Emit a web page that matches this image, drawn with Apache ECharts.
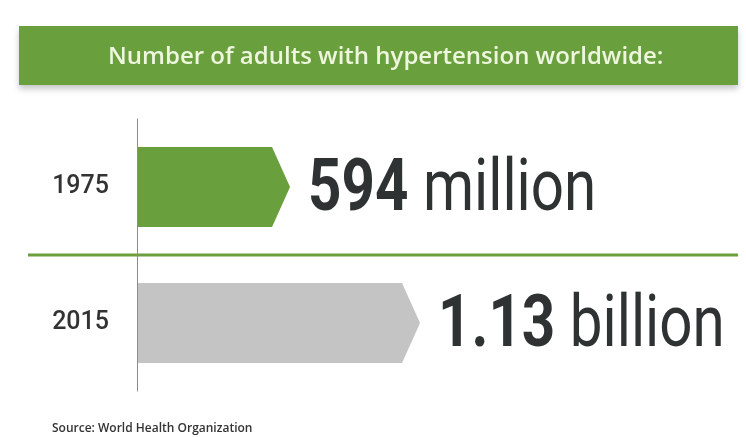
<!DOCTYPE html>
<html>
<head>
<meta charset="utf-8">
<script src="https://cdn.jsdelivr.net/npm/echarts@6/dist/echarts.min.js"></script>
<style>
html,body{margin:0;padding:0;background:#fff;}
#chart{width:746px;height:437px;}
</style>
</head>
<body>
<div id="chart"></div>
<script>
// ---- data ----
var titleText = 'Number of adults with hypertension worldwide:';
var sourceText = 'Source: World Health Organization';
var years = ['1975', '2015'];
var adultsMillions = [594, 1130];
var labelNumbers = ['594', '1.13'];
var labelUnits = ['million', 'billion'];

// ---- styles ----
var barColors = ['#6a9f3d', '#c4c4c4'];
var green = '#6a9f3d';

var chart = echarts.init(document.getElementById('chart'), null, {renderer: 'canvas'});

var seriesData = adultsMillions.map(function (v, i) { return [v, i]; });

var option = {
  backgroundColor: '#ffffff',
  animation: false,
  title: {
    text: titleText,
    left: 108,
    top: 43,
    padding: 0,
    textStyle: {
      color: '#eef6de',
      fontFamily: 'Open Sans',
      fontWeight: 600,
      fontSize: 24,
      lineHeight: 28
    }
  },
  graphic: [
    {
      type: 'rect',
      z: 0,
      shape: {x: 19, y: 26, width: 719, height: 59},
      style: {
        fill: green,
        shadowColor: 'rgba(0,0,0,0.22)',
        shadowBlur: 6,
        shadowOffsetY: 4
      }
    },
    {
      type: 'line',
      z: 0,
      shape: {x1: 28, y1: 255, x2: 738, y2: 255},
      style: {stroke: green, lineWidth: 3}
    },
    {
      type: 'text',
      left: 52,
      top: 423,
      style: {
        text: sourceText,
        fill: '#333333',
        font: '600 12px "Open Sans"'
      }
    }
  ],
  grid: {left: 137, right: 27, top: 119, bottom: 46, containLabel: false},
  xAxis: {
    type: 'value',
    min: 0,
    max: 2400,
    show: false
  },
  yAxis: {
    type: 'category',
    data: years,
    inverse: true,
    axisLine: {show: true, lineStyle: {color: '#8c8c8c', width: 1}},
    axisTick: {show: false},
    splitLine: {show: false},
    axisLabel: {
      margin: 28,
      color: '#333333',
      fontFamily: 'Roboto',
      fontWeight: 500,
      fontSize: 25
    }
  },
  series: [{
    type: 'custom',
    coordinateSystem: 'cartesian2d',
    encode: {x: 0, y: 1},
    data: seriesData,
    renderItem: function (params, api) {
      var idx = params.dataIndex;
      var val = api.value(0);
      var cat = api.value(1);
      var start = api.coord([0, cat]);
      var end = api.coord([val, cat]);
      var h = api.size([0, 1])[1] * 0.59;
      var half = 9;
      var cy = start[1];
      var top = cy - h / 2, bot = cy + h / 2;
      var bodyEnd = end[0] - half, tip = end[0] + half;
      return {
        type: 'group',
        children: [
          {
            type: 'polygon',
            shape: {points: [[start[0] + 1, top], [bodyEnd, top], [tip, cy], [bodyEnd, bot], [start[0] + 1, bot]]},
            style: {fill: barColors[idx]}
          },
          {
            type: 'text',
            x: tip + 18,
            y: cy + 5,
            scaleX: 0.81,
            style: {
              text: '{n|' + labelNumbers[idx] + '}{u|\u00a0' + labelUnits[idx] + '}',
              align: 'left',
              verticalAlign: 'middle',
              rich: {
                n: {fontFamily: 'Roboto', fontWeight: 'bold', fontSize: 72, fill: '#2f3233'},
                u: {fontFamily: 'Roboto', fontWeight: 'normal', fontSize: 72, fill: '#2f3233'}
              }
            }
          }
        ]
      };
    }
  }]
};

chart.setOption(option);
</script>
</body>
</html>
